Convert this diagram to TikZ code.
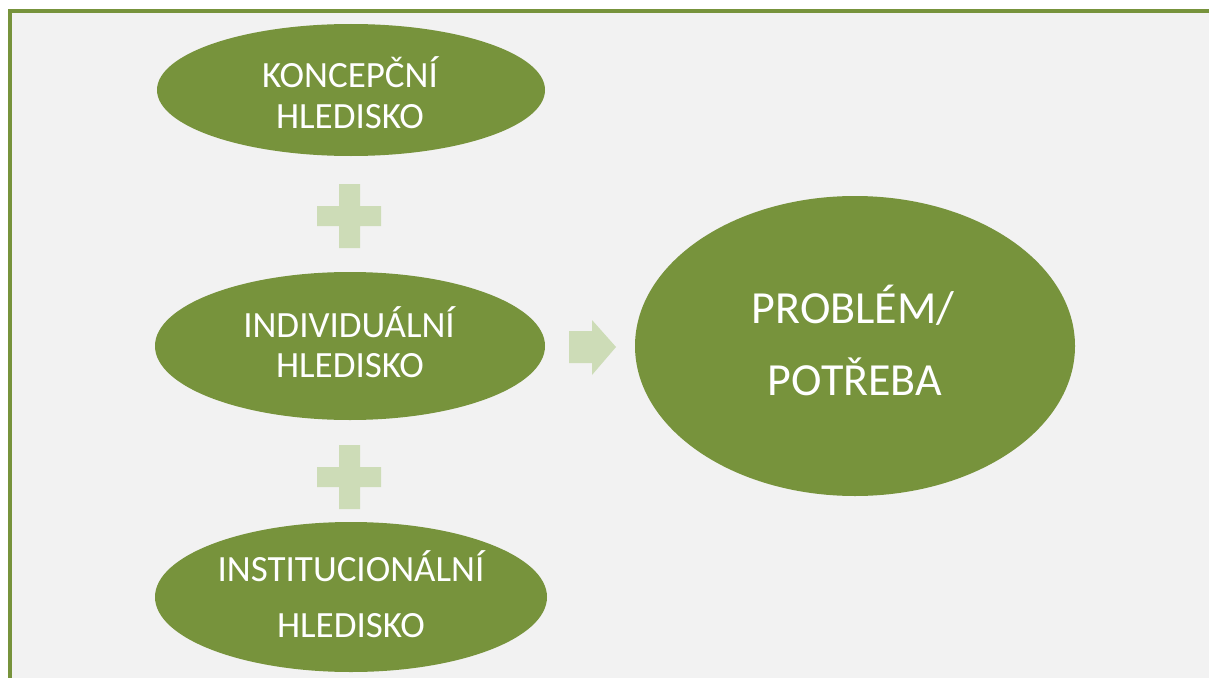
\documentclass[tikz,border=0pt]{standalone}
\usepackage{fontspec}
\usetikzlibrary{shapes.geometric}
\setmainfont{Carlito}
\definecolor{olive}{HTML}{77933C}
\definecolor{lightolive}{HTML}{CDDCB7}
\definecolor{bggray}{HTML}{F2F2F2}
\begin{document}
\begin{tikzpicture}[x=1pt,y=-1pt,
  oval/.style={ellipse, fill=olive, inner sep=0pt},
  smalltxt/.style={text=white, anchor=base, inner sep=0pt, font=\fontsize{37}{40}\selectfont},
  bigtxt/.style={text=white, anchor=base, inner sep=0pt, font=\fontsize{46}{52}\selectfont},
  sign/.style={fill=lightolive, draw=none}]
\useasboundingbox (0,0) rectangle (1209,677);
\clip (0,0) rectangle (1209,677);
\fill[white] (0,0) rectangle (1209,677);
\fill[bggray] (10,11.5) rectangle (1220,690);
\draw[olive, line width=4] (10,690) -- (10,11.5) -- (1220,11.5);
% ellipses
\node[oval, minimum width=388, minimum height=132] (k) at (351,90) {};
\node[oval, minimum width=390, minimum height=148] (i) at (350,346) {};
\node[oval, minimum width=392, minimum height=150] (n) at (351,597) {};
\node[oval, minimum width=440, minimum height=300] (p) at (855,346) {};
% texts
\node[smalltxt] (k1) at (350,88) {KONCEPČNÍ};
\node[smalltxt] (k2) at (350,128) {HLEDISKO};
\node[smalltxt] (i1) at (349,337) {INDIVIDUÁLNÍ};
\node[smalltxt] (i2) at (350,377) {HLEDISKO};
\node[smalltxt] (n1) at (351,581) {INSTITUCIONÁLNÍ};
\node[smalltxt] (n2) at (351,637) {HLEDISKO};
\node[bigtxt] (p1) at (853,323) {PROBLÉM/};
\node[bigtxt] (p2) at (855,395) {POTŘEBA};
% plus signs
\fill[sign] (339,184) -- (360,184) -- (360,206) -- (381,206) -- (381,226) -- (360,226)
  -- (360,248) -- (339,248) -- (339,226) -- (317,226) -- (317,206) -- (339,206) -- cycle;
\fill[sign] (339,445) -- (360,445) -- (360,467) -- (381,467) -- (381,487) -- (360,487)
  -- (360,509) -- (339,509) -- (339,487) -- (317,487) -- (317,467) -- (339,467) -- cycle;
% arrow
\fill[sign] (569,331) -- (592,331) -- (592,320) -- (616,347) -- (592,375) -- (592,363) -- (569,363) -- cycle;
\end{tikzpicture}
\end{document}
